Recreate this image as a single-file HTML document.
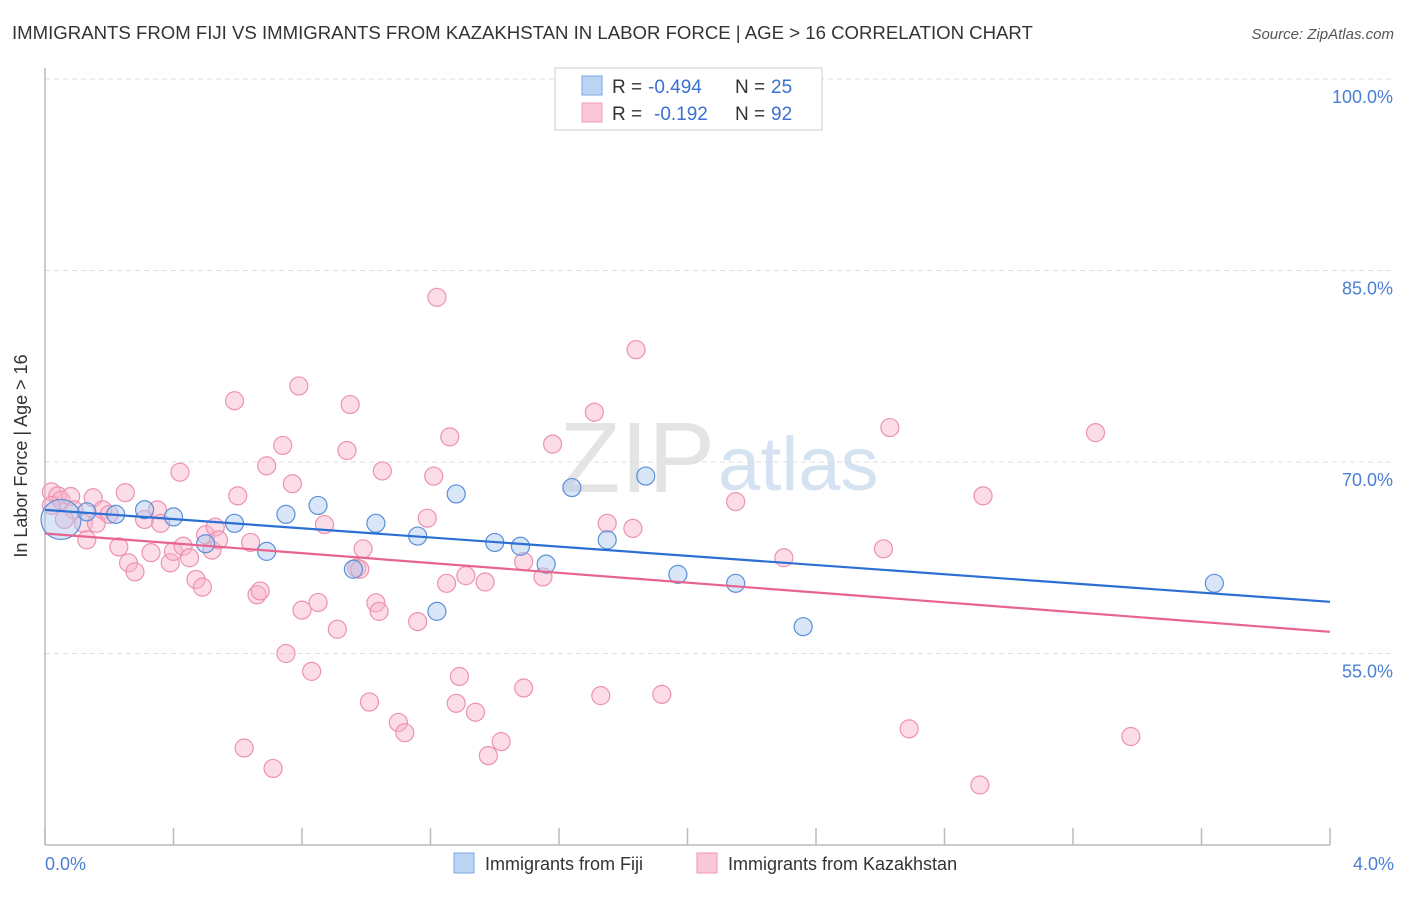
<!DOCTYPE html>
<html><head><meta charset="utf-8"><style>
body{margin:0;background:#fff;font-family:"Liberation Sans",sans-serif;}
svg text{font-family:"Liberation Sans",sans-serif;}
</style></head><body>
<svg id="c" width="1406" height="892">
<text x="12" y="39" font-size="18.6" fill="#333">IMMIGRANTS FROM FIJI VS IMMIGRANTS FROM KAZAKHSTAN IN LABOR FORCE | AGE &gt; 16 CORRELATION CHART</text>
<text x="1394" y="39" font-size="15" fill="#555" text-anchor="end" font-style="italic">Source: ZipAtlas.com</text>
<text x="715" y="492" font-size="100" fill="#e4e4e4" text-anchor="end" font-family="Liberation Serif">ZIP</text>
<text x="718" y="490" font-size="76" fill="#d4e2f2">atlas</text>
<g id="grid"></g>
<line x1="45" y1="68" x2="45" y2="845" stroke="#bbb" stroke-width="1.5"/>
<line x1="45" y1="845" x2="1330" y2="845" stroke="#bbb" stroke-width="1.5"/>
<g id="xt"></g>
<text x="27" y="456" font-size="18" fill="#333" text-anchor="middle" transform="rotate(-90 27 456)">In Labor Force | Age &gt; 16</text>
<text x="45" y="870" font-size="18" fill="#4a7fd4">0.0%</text>
<text x="1394" y="870" font-size="18" fill="#4a7fd4" text-anchor="end">4.0%</text>
<g id="pts"></g>
<g id="lines"></g>
<g>
<rect x="555" y="68" width="267" height="62" fill="#fff" stroke="#ccc"/>
<rect x="582" y="76" width="20" height="19" fill="#bcd4f4" stroke="#7aa6e0"/>
<rect x="582" y="103" width="20" height="19" fill="#fbc8d8" stroke="#ee9ab5"/>
<text x="612" y="93" font-size="19" fill="#333">R =</text>
<text x="648" y="93" font-size="19" fill="#3a70d0">-0.494</text>
<text x="735" y="93" font-size="19" fill="#333">N =</text>
<text x="771" y="93" font-size="19" fill="#3a70d0">25</text>
<text x="612" y="120" font-size="19" fill="#333">R =</text>
<text x="654" y="120" font-size="19" fill="#3a70d0">-0.192</text>
<text x="735" y="120" font-size="19" fill="#333">N =</text>
<text x="771" y="120" font-size="19" fill="#3a70d0">92</text>
</g>
<g>
<rect x="454" y="853" width="20" height="20" fill="#bcd4f4" stroke="#7aa6e0"/>
<text x="485" y="870" font-size="18" fill="#333">Immigrants from Fiji</text>
<rect x="697" y="853" width="20" height="20" fill="#fbc8d8" stroke="#ee9ab5"/>
<text x="728" y="870" font-size="18" fill="#333">Immigrants from Kazakhstan</text>
</g>
</svg>
<script>
const yTicks=[100,85,70,55];
const xTickVals=[0,0.4,0.8,1.2,1.6,2.0,2.4,2.8,3.2,3.6,4.0];
const fijiX=[.05,.13,.22,.31,.40,.50,.59,.69,.75,.85,.96,1.03,1.16,1.22,1.28,1.40,1.48,1.56,1.64,1.75,1.87,1.97,2.15,2.36,3.64];
const fijiY=[65.5,66.1,65.9,66.26,65.7,63.6,65.2,63.0,65.9,66.6,61.6,65.2,64.2,58.3,67.5,63.7,63.4,62.0,68.0,63.9,68.9,61.2,60.5,57.1,60.5];
const kazX=[.02,.04,.05,.08,.09,.12,.13,.15,.16,.18,.20,.23,.25,.26,.28,.31,.33,.35,.36,.39,.40,.42,.43,.45,.47,.49,.50,.52,.53,.54,.59,.60,.62,.64,.66,.67,.69,.71,.74,.77,.75,.80,.83,.85,.87,.79,.91,.94,.95,.97,.98,.99,1.01,1.03,1.04,1.05,1.10,1.12,1.16,1.19,1.21,1.22,1.25,1.26,1.28,1.29,1.31,1.34,1.37,1.38,1.42,1.49,1.49,1.55,1.58,1.71,1.73,1.75,1.83,1.84,1.92,2.15,2.30,2.61,2.63,2.69,2.91,2.92,3.27,3.38,.02,.06];
const kazY=[67.66,67.35,67.0,67.3,66.25,65.2,63.9,67.2,65.2,66.25,65.9,63.35,67.6,62.1,61.4,65.5,62.9,66.25,65.2,62.1,63.0,69.2,63.4,62.5,60.8,60.2,64.3,63.1,64.9,63.9,74.8,67.35,47.6,63.7,59.6,59.9,69.7,46.0,71.3,68.3,55.0,58.4,53.6,59.0,65.1,75.96,56.9,70.9,74.5,61.7,61.6,63.2,51.2,58.97,58.3,69.3,49.6,48.8,57.5,65.6,68.9,82.9,60.5,71.97,51.1,53.2,61.1,50.4,60.6,47.0,48.1,52.3,62.2,61.0,71.4,73.9,51.7,65.2,64.8,78.8,51.8,66.9,62.5,63.2,72.7,49.1,44.7,67.35,72.3,48.5,66.6,65.5];
const fijiTrend=[66.25,59.05];
const kazTrend=[64.4,56.7];
const NS="http://www.w3.org/2000/svg";
const sx=v=>45+v/4*1285;
const sy=v=>79+(100-v)*12.767;
function mk(t,a,p){const e=document.createElementNS(NS,t);for(const k in a)e.setAttribute(k,a[k]);p.appendChild(e);return e;}
const grid=document.getElementById('grid');
yTicks.forEach(v=>{
 const l=mk('line',{x1:45,x2:1394,y1:sy(v),y2:sy(v),stroke:'#ddd','stroke-dasharray':'5,4'},grid);
 
 
 const t=mk('text',{x:1393,y:sy(v)+24,'font-size':18,fill:'#4a7fd4','text-anchor':'end'},grid);
 t.textContent=v.toFixed(1)+'%';
 
 
});
const xt=document.getElementById('xt');
xTickVals.forEach(v=>{
 const l=mk('line',{x1:sx(v),x2:sx(v),y1:828,y2:845,stroke:'#bbb','stroke-width':1.5},xt);
 
 
});
const pts=document.getElementById('pts');
kazX.forEach((x,i)=>{
 const c=mk('circle',{cx:sx(x),cy:sy(kazY[i]),r:9,fill:'rgba(248,180,202,0.45)',stroke:'#ec92b0','stroke-width':1.2},pts);
 
 
});
fijiX.forEach((x,i)=>{
 const c=mk('circle',{cx:sx(x),cy:sy(fijiY[i]),r:i===0?20:9,fill:'rgba(170,200,240,0.45)',stroke:'#5b8fd8','stroke-width':1.2},pts);
 
 
});
const lines=document.getElementById('lines');
const lf=mk('line',{x1:sx(0),y1:sy(fijiTrend[0]),x2:sx(4),y2:sy(fijiTrend[1]),stroke:'#2c6fd4','stroke-width':2.2},lines);


const lk=mk('line',{x1:sx(0),y1:sy(kazTrend[0]),x2:sx(4),y2:sy(kazTrend[1]),stroke:'#e8648f','stroke-width':2.2},lines);


</script>
</body></html>
